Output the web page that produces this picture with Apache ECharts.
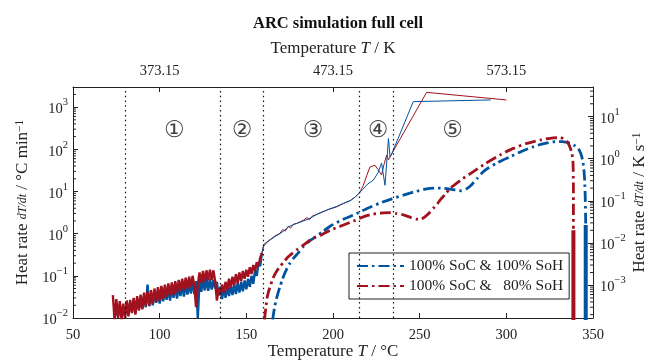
<!DOCTYPE html>
<html><head><meta charset="utf-8">
<script src="https://cdn.jsdelivr.net/npm/echarts@6/dist/echarts.min.js"></script>
<style>html,body{margin:0;padding:0;background:#fff}#c{width:651px;height:363px}</style>
</head><body><div id="c"></div>
<script>
const FONT = 'Liberation Serif';
const BLUE = '#00549F', RED = '#A1121E', INK = '#222';

const titleText = 'ARC simulation full cell';
const seriesNames = ['100% SoC & 100% SoH', '100% SoC & \u200780% SoH'];
const phaseBounds = [80, 135, 160, 215, 235];
const phaseLabels = ['①', '②', '③', '④', '⑤'];
const phaseLabelT = [108.5, 147.5, 188.5, 226, 269];
const phaseLabelY = 270;
const topTicksK = [373.15, 473.15, 573.15];

const blueNoise = [[74,0.010],[75,0.019],[76,0.011],[77,0.021],[78,0.012],[79,0.018],[80,0.011],[81,0.024],[82,0.013],[83,0.022],[84,0.014],[85,0.027],[86,0.013],[87,0.029],[88,0.016],[89,0.026],[90,0.017],[91,0.033],[92,0.018],[93,0.062],[94,0.019],[95,0.038],[96,0.020],[97,0.036],[98,0.023],[99,0.041],[100,0.022],[101,0.045],[102,0.025],[103,0.043],[104,0.027],[105,0.050],[106,0.026],[107,0.052],[108,0.030],[109,0.055],[110,0.029],[111,0.058],[112,0.033],[113,0.062],[114,0.032],[115,0.066],[116,0.036],[117,0.064],[118,0.038],[119,0.072],[120,0.037],[121,0.075],[122,0.010],[123,0.078],[124,0.042],[125,0.082],[126,0.045],[127,0.088],[128,0.044],[129,0.085],[130,0.047],[131,0.080],[132,0.050],[133,0.072],[134,0.034],[135,0.055],[136,0.028],[137,0.052],[138,0.030],[139,0.058],[140,0.033],[141,0.060],[142,0.035],[143,0.064],[144,0.037],[145,0.068],[146,0.040],[147,0.072],[148,0.043],[149,0.078],[150,0.048],[151,0.085],[152,0.055],[153,0.10],[154,0.065],[155,0.13],[156,0.10],[157,0.20],[158,0.17],[159,0.35]];

const blueExp = [[159,0.35],[160,0.5],[161.5,0.6],[163.7,0.71],[166.5,0.85],[169.4,1.0],[172,1.2],[174.2,1.44],[176.5,1.6],[179,1.74],[183,2.0],[186.7,2.3],[189.5,2.7],[192.5,3.1],[197,3.7],[202,4.4],[206,5.2],[209.8,6.0],[212.5,7.2],[214.6,8.8],[217,11],[220,15],[223.3,18.6],[226,28],[228,47],[230,14],[232,180],[232.9,66],[234,80],[246.3,1350],[291,1480]];

const redNoise = [[73,0.035],[74,0.009],[75,0.028],[76,0.010],[77,0.025],[78,0.009],[79,0.022],[80,0.010],[81,0.026],[82,0.011],[83,0.027],[84,0.013],[85,0.030],[86,0.012],[87,0.033],[88,0.015],[89,0.036],[90,0.016],[91,0.040],[92,0.019],[93,0.042],[94,0.020],[95,0.046],[96,0.022],[97,0.050],[98,0.024],[99,0.054],[100,0.026],[101,0.058],[102,0.029],[103,0.062],[104,0.031],[105,0.066],[106,0.034],[107,0.070],[108,0.036],[109,0.075],[110,0.040],[111,0.080],[112,0.043],[113,0.085],[114,0.046],[115,0.090],[116,0.050],[117,0.095],[118,0.054],[119,0.10],[120,0.058],[121,0.018],[122,0.062],[123,0.12],[124,0.068],[125,0.13],[126,0.072],[127,0.135],[128,0.078],[129,0.14],[130,0.080],[131,0.135],[132,0.075],[133,0.026],[134,0.05],[135,0.035],[136,0.062],[137,0.040],[138,0.072],[139,0.047],[140,0.085],[141,0.052],[142,0.095],[143,0.060],[144,0.11],[145,0.066],[146,0.12],[147,0.075],[148,0.13],[149,0.085],[150,0.14],[151,0.095],[152,0.16],[153,0.11],[154,0.18],[155,0.13],[156,0.21],[157,0.17],[158,0.27],[159,0.35]];

const redExp = [[159,0.35],[160,0.55],[161.5,0.62],[163.7,0.72],[166.5,0.88],[169.4,1.02],[171,1.25],[172.5,1.15],[174.2,1.5],[175.5,1.35],[177.5,1.7],[179,1.75],[181,1.9],[183,2.1],[185,2.4],[186.5,2.15],[188,2.6],[190,2.8],[192.5,3.1],[197,3.7],[202,4.3],[206,5.2],[210,6.1],[213,7.5],[215.5,9.5],[217.5,14],[219.5,24],[221.3,38],[224.2,42],[226,33],[228,24.6],[229.5,45],[231,73],[232,56],[234,80],[254,2240],[300,1480]];

const blueSim = [[165.2,0.009],[165.6,0.012],[166.3,0.018],[167,0.025],[168.2,0.038],[169.4,0.055],[170.7,0.08],[172,0.11],[173.5,0.15],[175.2,0.2],[177.5,0.27],[180,0.35],[183,0.5],[186.7,0.68],[190,0.85],[194,1.1],[198.3,1.5],[206,2.2],[213.7,3.0],[220,4.0],[227,5.3],[234,6.7],[240.6,8.2],[247,9.8],[254,11.5],[259,12.1],[264,11.9],[269,11.1],[274,10.4],[277,11.5],[280,14.5],[283,20],[286.5,29],[290,37],[294,46],[298,56],[302,66],[309,90],[315.4,114],[321,135],[327,150],[332,152],[335,146],[337.5,135],[339.5,122],[341.5,105],[343,78],[344,55],[344.7,35],[345.2,18],[345.5,8],[345.7,3],[345.8,1.6]];

const redSim = [[160.5,0.009],[160.8,0.012],[161.3,0.018],[162,0.03],[162.8,0.042],[163.7,0.055],[164.8,0.075],[166,0.1],[167.6,0.13],[169.4,0.165],[171.5,0.21],[174,0.28],[176.5,0.34],[179,0.41],[182,0.5],[185,0.62],[188.5,0.78],[192.5,0.9],[198.3,1.2],[206,1.6],[212,2.0],[217.5,2.5],[223,2.9],[229,3.1],[233,3.15],[236.7,3.0],[241,2.75],[245,2.4],[248,2.2],[250.5,2.2],[253,2.5],[255.5,3.1],[257.9,4.0],[260,5.0],[262,6.4],[265,8.8],[267.5,11.8],[274,19],[281,29.6],[288,46],[296.3,73],[304,105],[311.7,138],[320,168],[327,186],[330.5,188],[332.9,180],[335,155],[336.7,114],[337.8,80],[338.4,55],[338.6,30],[338.7,10],[338.7,1.3]];

const blueDrop = [[345.8,1.6],[345.8,0.001]];
const redDrop = [[338.7,1.2],[338.7,0.001]];

function minorVals(lo, hi, min, max) {
  const out = [];
  for (let e = lo; e <= hi; e++) for (let m = 2; m <= 9; m++) {
    const v = m * Math.pow(10, e);
    if (v > min && v < max) out.push(v);
  }
  return out;
}
const leftMin = 0.01, leftMax = 3000;
const rightMin = leftMin / 60, rightMax = leftMax / 60;
const leftMinor = minorVals(-2, 3, leftMin, leftMax);
const rightMinor = minorVals(-4, 1, rightMin, rightMax);

const supRich = {
  b: {fontFamily: FONT, fontSize: 14.5, color: INK, lineHeight: 20, verticalAlign: 'bottom'},
  s: {fontFamily: FONT, fontSize: 10.5, color: INK, lineHeight: 20, verticalAlign: 'top'}
};
function logLabel(v) {
  const e = Math.round(Math.log10(v));
  return '{b|10}{s|' + (e < 0 ? '\u2212' + (-e) : e) + '}';
}
const nameRich = {
  n: {fontFamily: FONT, fontSize: 17, color: INK},
  i: {fontFamily: FONT, fontSize: 12, fontStyle: 'italic', color: INK},
  t: {fontFamily: FONT, fontSize: 17, fontStyle: 'italic', color: INK},
  s: {fontFamily: FONT, fontSize: 11.5, color: INK, verticalAlign: 'top', lineHeight: 16}
};

function tickSeries(values, yIdx, xAt, dir) {
  return {
    type: 'custom', xAxisIndex: 0, yAxisIndex: yIdx, silent: true, z: 10, clip: false,
    data: values.map(v => [xAt, v]),
    encode: {x: 0, y: 1},
    renderItem: (params, api) => {
      const p = api.coord([api.value(0), api.value(1)]);
      return {type: 'line', shape: {x1: p[0], y1: p[1], x2: p[0] + dir * 3, y2: p[1]},
              style: {stroke: INK, lineWidth: 1}};
    }
  };
}

const simLine = (color) => ({color: color, width: 2.8, type: [11, 4, 2.5, 4], cap: 'butt'});
const plain = {showSymbol: false, symbol: 'none', type: 'line'};

const chart = echarts.init(document.getElementById('c'), null, {renderer: 'canvas'});
chart.setOption({
  animation: false,
  backgroundColor: '#fff',
  title: {text: titleText, left: 333, top: 10, textAlign: 'center',
    textStyle: {fontFamily: FONT, fontWeight: 'bold', fontSize: 16.5, color: '#111'}},
  grid: {left: 73, right: 58, top: 87, bottom: 45, containLabel: false, outerBoundsMode: 'none'},
  legend: {
    data: seriesNames, orient: 'vertical', left: 349, top: 253,
    itemWidth: 47, itemHeight: 12, itemGap: 4, padding: [5, 6, 5, 7],
    borderColor: INK, borderWidth: 1, backgroundColor: '#fff', borderRadius: 0,
    itemStyle: {color: 'rgba(0,0,0,0)', borderColor: 'rgba(0,0,0,0)', borderWidth: 0, opacity: 0},
    textStyle: {fontFamily: FONT, fontSize: 15.5, color: INK},
    selectedMode: false
  },
  xAxis: [{
    type: 'value', position: 'bottom', min: 50, max: 350, interval: 50,
    axisLine: {lineStyle: {color: INK, width: 1}},
    axisTick: {inside: true, length: 5, lineStyle: {color: INK}},
    splitLine: {show: false},
    axisLabel: {fontFamily: FONT, fontSize: 14.5, color: INK, margin: 10},
    name: '{n|Temperature }{t|T}{n| / °C}', nameLocation: 'middle', nameGap: 25, nameMoveOverlap: false,
    nameTextStyle: {rich: nameRich}
  }, {
    type: 'value', position: 'top', min: 323.15, max: 623.15,
    axisLine: {lineStyle: {color: INK, width: 1}},
    axisTick: {inside: true, length: 5, lineStyle: {color: INK}, customValues: topTicksK},
    splitLine: {show: false},
    axisLabel: {fontFamily: FONT, fontSize: 14.5, color: INK, margin: 8, customValues: topTicksK,
      formatter: v => v.toFixed(2)},
    name: '{n|Temperature }{t|T}{n| / K}', nameLocation: 'middle', nameGap: 30, nameMoveOverlap: false,
    nameTextStyle: {rich: nameRich}
  }],
  yAxis: [{
    type: 'log', position: 'left', min: leftMin, max: leftMax, logBase: 10,
    axisLine: {show: true, lineStyle: {color: INK, width: 1}},
    axisTick: {inside: true, length: 5, lineStyle: {color: INK}},
    splitLine: {show: false},
    axisLabel: {formatter: logLabel, rich: supRich, margin: 5, showMaxLabel: false},
    name: '{n|Heat rate }{i|dT/dt}{n| / °C min}{s|\u22121}', nameLocation: 'middle', nameRotate: 90, nameGap: 42, nameMoveOverlap: false,
    nameTextStyle: {rich: nameRich}
  }, {
    type: 'log', position: 'right', min: rightMin, max: rightMax, logBase: 10,
    axisLine: {show: true, lineStyle: {color: INK, width: 1}},
    axisTick: {inside: true, length: 5, lineStyle: {color: INK}},
    splitLine: {show: false},
    axisLabel: {formatter: logLabel, rich: supRich, margin: 7, showMaxLabel: false, showMinLabel: false},
    name: '{n|Heat rate }{i|dT/dt}{n| / K s}{s|\u22121}', nameLocation: 'middle', nameRotate: 90, nameGap: 38, nameMoveOverlap: false,
    nameTextStyle: {rich: nameRich}
  }],
  series: [
    Object.assign({name: 'noise100', data: blueNoise, lineStyle: {color: BLUE, width: 2.4}, z: 2,
     markLine: {silent: true, symbol: ['none', 'none'], label: {show: false},
       lineStyle: {type: [1.5, 3.3], color: '#111', width: 1.2},
       data: phaseBounds.map(x => ({xAxis: x}))}}, plain),
    Object.assign({name: 'noise80', data: redNoise, lineStyle: {color: RED, width: 2.4}, z: 3}, plain),
    Object.assign({name: 'exp100', data: blueExp, lineStyle: {color: BLUE, width: 1}, z: 3}, plain),
    Object.assign({name: 'exp80', data: redExp, lineStyle: {color: RED, width: 1}, z: 2}, plain),
    Object.assign({name: seriesNames[0], data: blueSim, itemStyle: {color: BLUE},
      lineStyle: simLine(BLUE), smooth: 0.2, z: 4}, plain),
    Object.assign({name: seriesNames[1], data: redSim, itemStyle: {color: RED},
      lineStyle: simLine(RED), smooth: 0.2, z: 5}, plain),
    Object.assign({name: 'drop100', data: blueDrop, lineStyle: {color: BLUE, width: 4}, z: 4}, plain),
    Object.assign({name: 'drop80', data: redDrop, lineStyle: {color: RED, width: 4}, z: 5}, plain),
    {name: 'phases', type: 'scatter', symbolSize: 0, silent: true, z: 6,
     data: phaseLabelT.map((t, i) => ({value: [t, phaseLabelY], name: phaseLabels[i]})),
     label: {show: true, position: 'inside', formatter: p => p.name,
       fontFamily: 'DejaVu Serif, DejaVu Sans', fontSize: 23, color: '#111'}},
    tickSeries(leftMinor, 0, 50, 1),
    tickSeries(rightMinor, 1, 350, -1)
  ]
});
</script></body></html>
